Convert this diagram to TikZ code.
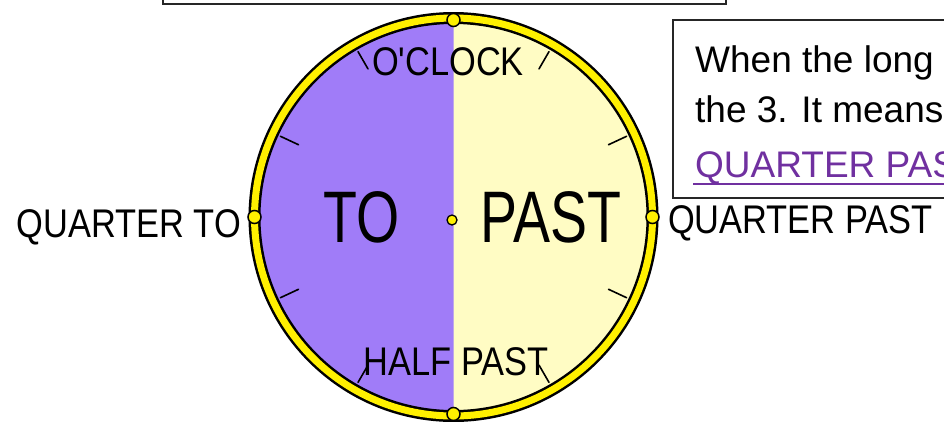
\documentclass[tikz,border=0pt]{standalone}
\usepackage{fontspec}
\setmainfont{Liberation Sans}
\newfontfamily\condfont[FakeStretch=0.86]{Liberation Sans}
\newfontfamily\bigfont[FakeStretch=0.76]{Liberation Sans}
\newfontfamily\notefont{Liberation Sans}
\definecolor{purp}{RGB}{160,124,248}
\definecolor{cream}{RGB}{255,252,196}
\definecolor{ringyel}{RGB}{255,240,0}
\definecolor{notepurp}{RGB}{112,48,160}
\tikzset{
  lab/.style={anchor=base, inner sep=0pt, font=\condfont\fontsize{40}{40}\selectfont},
  biglab/.style={anchor=base, inner sep=0pt, font=\bigfont\fontsize{73}{73}\selectfont},
  notetext/.style={anchor=base west, inner sep=0pt, font=\notefont\fontsize{37}{37}\selectfont},
  knob/.style={circle, draw=black, fill=ringyel, line width=1.5pt, minimum size=13pt, inner sep=0pt},
  tickmark/.style={line width=1.6pt, line cap=round},
  boxline/.style={draw=black!85, line width=2pt}
}
\begin{document}
\begin{tikzpicture}[x=1pt,y=-1pt]
\useasboundingbox (0,0) rectangle (944,421);
\clip (0,0) rectangle (944,421);
\fill[white] (0,0) rectangle (944,421);
% boxes
\draw[boxline] (163,-10) rectangle (726,4);
\draw[boxline] (673,20) rectangle (980,198);
% clock face
\coordinate (c) at (453.5,217);
\fill[purp] (c) circle (199);
\begin{scope}
  \clip (453.5,0) rectangle (700,421);
  \fill[cream] (c) circle (199);
\end{scope}
% ring
\draw[black, line width=12pt] (c) circle (199);
\draw[ringyel, line width=7pt] (c) circle (199);
% ticks
\foreach \a in {25,60,120,155,205,240,300,335}
  \draw[tickmark] ([shift={(\a:171)}]c) -- ([shift={(\a:191)}]c);
% knobs
\node[knob] (ktop) at ([shift={(90:-197)}]c) {};
\node[knob] (kbot) at ([shift={(90:197)}]c) {};
\node[knob] (kleft) at ([shift={(180:199)}]c) {};
\node[knob] (kright) at ([shift={(0:199)}]c) {};
\node[circle, draw=black, fill=ringyel, line width=1.3pt, minimum size=10pt, inner sep=0pt] (ctr) at (452,220) {};
% labels on the face
\node[lab] (oclock) at (448,75) {O'CLOCK};
\node[lab] (halfpast) at (456,375) {HALF PAST};
\node[biglab] (to) at (362,242) {TO};
\node[biglab, anchor=base west] (past) at (480,242) {PAST};
% outside labels
\node[lab, anchor=base east] (qto) at (241,237) {QUARTER TO};
\node[lab, anchor=base west] (qpast) at (668,233) {QUARTER PAST};
% note box text
\node[notetext] (n1) at (695,72) {When the long hand};
\node[notetext] (n2) at (695,122) {the 3. It means};
\node[notetext, text=notepurp] (n3) at (695,177) {QUARTER PAST};
\draw[notepurp, line width=2pt] (693,183.5) -- (980,183.5);
\end{tikzpicture}
\end{document}
